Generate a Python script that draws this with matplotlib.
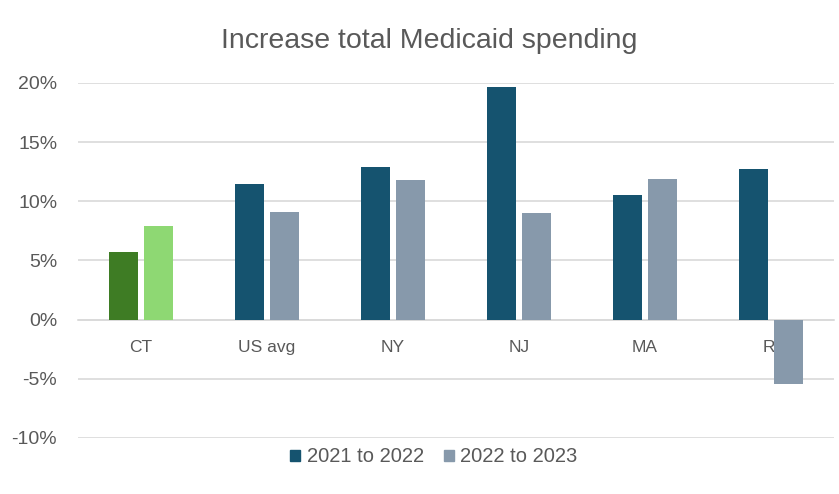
import matplotlib.pyplot as plt
import numpy as np
from matplotlib.patches import Patch

# Percent increase in total Medicaid spending by state
states = ['CT', 'US avg', 'NY', 'NJ', 'MA', 'RI']
growth_21_22 = [5.7, 11.5, 12.9, 19.7, 10.5, 12.7]
growth_22_23 = [7.9, 9.1, 11.8, 9.0, 11.9, -5.4]
y_ticks = [-10, -5, 0, 5, 10, 15, 20]

plt.rcParams['font.family'] = ['Liberation Sans', 'DejaVu Sans']

dark_blue = '#15536F'
grey_blue = '#8799AB'
text_col = '#595959'

fig = plt.figure(figsize=(8.39, 4.94), dpi=100)
ax = fig.add_axes([0.093, 0.1134, 0.901, 0.7186])

x = np.arange(len(states))
w = 0.23
off = 0.142
c1 = [dark_blue] * len(states)
c2 = [grey_blue] * len(states)
# Connecticut highlighted in green
c1[0] = '#3E7C24'
c2[0] = '#8ED873'

ax.bar(x - off, growth_21_22, width=w, color=c1, zorder=3)
ax.bar(x + off, growth_22_23, width=w, color=c2, zorder=3)

ax.set_xlim(-0.5, len(states) - 0.5)
ax.set_ylim(-10, 20)
ax.set_yticks(y_ticks)
ax.set_yticklabels([f'{t}%' for t in y_ticks])
ax.set_xticks(x)
ax.set_xticklabels(states)

ax.yaxis.grid(True, color='#D9D9D9', linewidth=1.2, zorder=0)
for s in ['top', 'right', 'left']:
    ax.spines[s].set_visible(False)
ax.spines['bottom'].set_position(('data', 0))
ax.spines['bottom'].set_color('#D9D9D9')
ax.spines['bottom'].set_linewidth(1.2)
ax.tick_params(axis='both', length=0, colors=text_col)
ax.tick_params(axis='y', pad=15, labelsize=14)
ax.tick_params(axis='x', pad=15, labelsize=12.5)

fig.text(0.511, 0.918, 'Increase total Medicaid spending', ha='center', va='center',
         fontsize=20.5, color=text_col)

handles = [Patch(color=dark_blue, label='2021 to 2022'),
           Patch(color=grey_blue, label='2022 to 2023')]
fig.legend(handles=handles, loc='center', bbox_to_anchor=(0.517, 0.075), ncol=2,
           frameon=False, fontsize=14.5, labelcolor=text_col, handlelength=0.5,
           handleheight=0.5, handletextpad=0.3, columnspacing=1.0)

fig.savefig('out.png', dpi=100)
